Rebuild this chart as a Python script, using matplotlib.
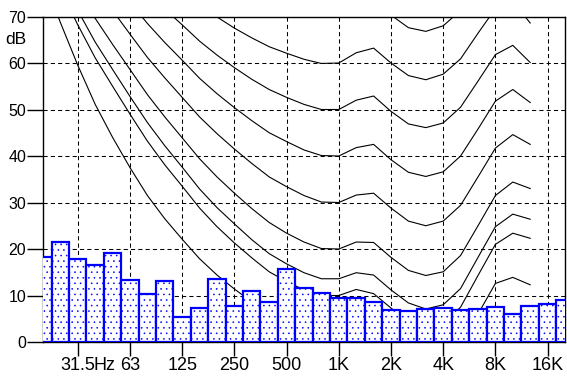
import numpy as np
import matplotlib
matplotlib.use("Agg")
import matplotlib.pyplot as plt

# ==========================
# DATA
# ==========================
# 1/3 octave band spectrum, 20 Hz .. 20 kHz (dB)
band_levels = [18.3, 21.4, 17.8, 16.6, 19.2, 13.3, 10.4, 13.2, 5.4, 7.3, 13.5,
               7.8, 10.9, 8.7, 15.7, 11.7, 10.5, 9.4, 9.5, 8.5, 6.9,
               6.7, 7.2, 7.3, 6.8, 7.0, 7.5, 6.0, 7.8, 8.2, 9.0]

# equal loudness contours, 20 Hz .. 12.5 kHz (dB)
threshold = [78.5, 68.7, 59.5, 51.1, 44.0, 37.5, 31.5, 26.5, 22.1, 17.9, 14.4,
             11.4, 8.6, 6.2, 4.4, 3.0, 2.2, 2.4, 3.5, 1.7, -1.3,
             -4.2, -6.0, -5.4, -1.5, 6.0, 12.6, 13.9, 12.3]
phon_10 = [83.8, 75.8, 68.2, 61.1, 55.0, 49.0, 43.2, 38.1, 33.5, 28.8, 24.8,
           21.3, 18.1, 15.1, 13.0, 11.2, 10.0, 10.0, 11.3, 10.4, 7.3,
           4.5, 3.0, 3.8, 7.5, 14.3, 21.0, 23.4, 22.3]
phon_14 = [85.9, 78.4, 71.3, 64.5, 58.6, 52.8, 47.2, 42.2, 37.6, 32.9, 28.9,
           25.4, 22.0, 19.0, 16.8, 14.9, 13.6, 13.6, 14.9, 14.4, 11.2,
           8.4, 7.1, 8.0, 11.5, 18.2, 24.8, 27.5, 26.4]
phon_20 = [89.6, 82.7, 76.0, 69.6, 64.0, 58.6, 53.2, 48.4, 43.9, 39.4, 35.5,
           32.0, 28.7, 25.7, 23.4, 21.5, 20.1, 20.0, 21.5, 21.4, 18.2,
           15.4, 14.3, 15.1, 18.6, 25.0, 31.5, 34.4, 33.0]
phon_30 = [94.8, 88.5, 82.4, 76.5, 71.3, 66.2, 61.2, 56.8, 52.6, 48.4, 44.8,
           41.5, 38.4, 35.5, 33.4, 31.5, 30.1, 30.0, 31.6, 32.0, 28.8,
           26.0, 25.0, 26.0, 29.4, 35.5, 41.7, 44.6, 42.5]
phon_40 = [99.9, 93.9, 88.2, 82.6, 77.8, 73.1, 68.5, 64.4, 60.6, 56.7, 53.4,
           50.4, 47.6, 45.0, 43.1, 41.3, 40.1, 40.0, 41.8, 42.5, 39.2,
           36.5, 35.6, 36.6, 40.0, 45.8, 51.8, 54.3, 51.5]
phon_50 = [104.7, 99.1, 93.7, 88.5, 84.0, 79.6, 75.4, 71.6, 68.2, 64.7, 61.7,
           59.0, 56.5, 54.3, 52.6, 51.1, 50.0, 50.0, 52.0, 52.9, 49.6,
           46.9, 46.1, 47.1, 50.5, 56.1, 61.8, 63.8, 60.1]
phon_60 = [109.5, 104.2, 99.1, 94.2, 90.0, 85.9, 82.1, 78.7, 75.6, 72.5, 69.9,
           67.5, 65.4, 63.5, 62.1, 60.8, 59.9, 60.0, 62.2, 63.2, 60.0,
           57.3, 56.4, 57.6, 60.9, 66.4, 71.7, 73.2, 68.6]
phon_70 = [114.3, 109.2, 104.4, 99.8, 95.9, 92.2, 88.6, 85.6, 82.9, 80.2, 77.9,
           75.9, 74.2, 72.6, 71.5, 70.5, 69.8, 70.0, 72.3, 73.5, 70.3,
           67.6, 66.8, 68.0, 71.3, 76.6, 81.5, 82.5, 77.0]
contours = [threshold, phon_10, phon_14, phon_20, phon_30, phon_40,
            phon_50, phon_60, phon_70]

# octave tick labels at band index
tick_idx = [2, 5, 8, 11, 14, 17, 20, 23, 26, 29]
tick_labels = ["31.5", "63", "125", "250", "500", "1K", "2K", "4K", "8K", "16K"]

# ==========================
# PLOT
# ==========================
plt.rcParams["font.family"] = ["Liberation Sans", "DejaVu Sans"]
plt.rcParams["hatch.color"] = "#7070ff"
plt.rcParams["hatch.linewidth"] = 0.4

fig = plt.figure(figsize=(5.67, 3.79), dpi=100)
ax = fig.add_axes([43 / 567, 37 / 379, 522 / 567, 325.5 / 379])

# contours (under the bars)
for c in contours:
    ax.plot(np.arange(len(c)), c, color="black", lw=0.8, zorder=1.5)

# spectrum bars
ax.bar(np.arange(len(band_levels)), band_levels, width=1.0,
       facecolor="white", edgecolor="#0000ff", linewidth=1.6,
       hatch="...", zorder=3)

ax.set_xlim(0, 30)
ax.set_ylim(0, 70)

ax.set_xticks(tick_idx)
ax.set_xticklabels(tick_labels, fontsize=13)
ax.set_yticks(range(0, 71, 10))
ax.tick_params(axis="y", labelsize=11.5)

ax.tick_params(axis="x", length=10, width=1, pad=0.5, colors="black")
ax.tick_params(axis="y", length=11.5, width=1, pad=0.5, colors="black")

ax.grid(True, color="black", linestyle=(0, (4, 3)), linewidth=0.75, zorder=1)
ax.set_axisbelow(True)

for s in ax.spines.values():
    s.set_linewidth(1)
    s.set_color("black")

ax.annotate("Hz", xy=(3.53, 0), xycoords=("data", "axes fraction"),
            xytext=(0, -10.5), textcoords="offset points",
            ha="center", va="top", fontsize=13)
ax.annotate("dB", xy=(0, 65.0), xycoords=("axes fraction", "data"),
            xytext=(-11.7, 0), textcoords="offset points",
            ha="right", va="center", fontsize=12.5)

fig.savefig("out.png")
